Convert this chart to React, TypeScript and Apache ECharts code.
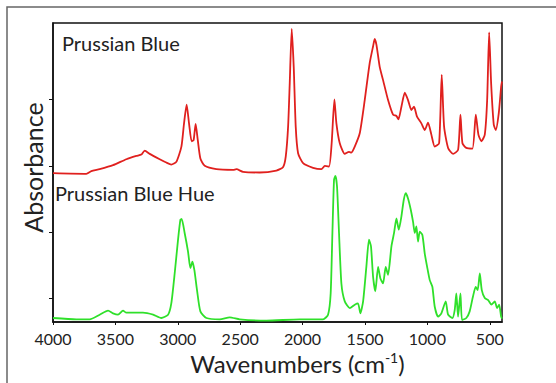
import React, { useEffect, useRef } from "react";
import * as echarts from "echarts";

// Prussian Blue (red trace)
const pbWavenumbers = [4000,3733,3693,3626,3519,3412,3332,3292,3265,3225,3145,3092,3052,3012,2971,2950,2929,2910,2889,2873,2857,2840,2819,2784,2691,2557,2530,2477,2344,2210,2157,2135,2116,2103,2087,2071,2055,2036,1996,1916,1849,1822,1788,1767,1745,1729,1702,1662,1628,1609,1582,1542,1502,1462,1435,1422,1408,1382,1355,1315,1275,1248,1232,1208,1181,1155,1128,1107,1083,1048,1021,995,968,941,906,885,866,834,794,754,735,719,688,639,612,591,567,540,521,505,489,468,452,428,409,402];
const pbAbsorbance = [2.24,2.23,2.27,2.30,2.36,2.45,2.50,2.52,2.58,2.53,2.45,2.40,2.37,2.41,2.64,2.99,3.27,2.99,2.72,2.74,2.98,2.74,2.46,2.35,2.30,2.29,2.30,2.26,2.25,2.28,2.33,2.49,2.94,3.59,4.41,3.84,2.94,2.54,2.39,2.32,2.30,2.35,2.34,2.69,3.35,2.99,2.69,2.53,2.56,2.55,2.64,2.84,3.34,3.90,4.15,4.26,4.17,3.84,3.64,3.34,3.12,3.10,3.05,3.24,3.45,3.34,3.19,3.24,3.09,2.99,2.89,3.00,2.82,2.64,2.69,3.72,2.94,2.62,2.53,2.59,3.12,2.69,2.62,2.61,3.12,2.82,2.72,2.82,3.34,4.36,3.59,2.97,2.89,3.14,3.54,3.62];

// Prussian Blue Hue (green trace)
const pbhWavenumbers = [4000,3813,3706,3626,3559,3519,3479,3439,3412,3279,3198,3132,3078,3052,3025,2998,2979,2969,2945,2918,2899,2883,2867,2846,2819,2771,2664,2584,2504,2290,2023,1836,1796,1775,1761,1748,1737,1724,1708,1689,1662,1622,1582,1556,1537,1515,1489,1468,1452,1435,1417,1395,1377,1355,1334,1315,1288,1267,1248,1229,1208,1189,1173,1155,1133,1115,1101,1088,1075,1061,1040,1021,1002,981,960,941,914,888,853,834,800,781,768,754,735,722,688,661,635,613,597,580,564,540,513,487,460,441,425,409,402];
const pbhAbsorbance = [0.06,0.04,0.04,0.11,0.17,0.13,0.11,0.17,0.14,0.14,0.11,0.06,0.11,0.28,0.73,1.24,1.54,1.55,1.34,1.06,0.81,0.91,0.78,0.48,0.16,0.06,0.04,0.07,0.04,0.02,0.04,0.04,0.11,0.43,1.34,2.14,2.20,2.04,1.34,0.58,0.31,0.21,0.26,0.28,0.13,0.31,0.83,1.24,1.14,0.68,0.46,0.83,0.66,0.58,0.83,0.71,1.14,1.34,1.56,1.39,1.59,1.84,1.94,1.86,1.69,1.51,1.34,1.44,1.21,1.36,1.31,1.03,0.83,0.63,0.53,0.23,0.08,0.13,0.31,0.11,0.06,0.18,0.43,0.08,0.43,0.03,0.06,0.16,0.38,0.53,0.48,0.73,0.48,0.36,0.33,0.26,0.31,0.21,0.26,0.08,0.05];

const xTickLabels = [4000, 3500, 3000, 2500, 2000, 1500, 1000, 500];
const yTickValues = [0.35, 1.35, 2.35, 3.35];

const FONT = "Lato";

export default function App() {
  const ref = useRef<HTMLDivElement>(null);
  useEffect(() => {
    if (!ref.current) return;
    const chart = echarts.init(ref.current, null, { renderer: "svg" });
    const pb = pbWavenumbers.map((w, i) => [w, pbAbsorbance[i]]);
    const pbh = pbhWavenumbers.map((w, i) => [w, pbhAbsorbance[i]]);
    chart.setOption({
      animation: false,
      backgroundColor: "#ffffff",
      grid: {
        left: 53,
        right: 54,
        top: 23,
        bottom: 61,
        show: true,
        borderColor: "#111",
        borderWidth: 1.5,
        backgroundColor: "transparent",
      },
      xAxis: {
        type: "value",
        inverse: true,
        min: 402,
        max: 4000,
        name: "Wavenumbers (cm{sup|-1})",
        nameLocation: "middle",
        nameGap: 25,
        nameTextStyle: {
          fontFamily: FONT,
          fontSize: 24,
          color: "#222",
          padding: [0, 0, 0, 40],
          rich: {
            sup: { fontFamily: FONT, fontSize: 14, color: "#222", verticalAlign: "top", padding: [0, 0, 11, 0] },
          },
        },
        splitLine: { show: false },
        axisLine: { show: true, lineStyle: { color: "#111", width: 1.5 } },
        axisTick: { show: true, customValues: xTickLabels, length: 3, lineStyle: { color: "#111" } },
        axisLabel: {
          customValues: xTickLabels,
          formatter: (v: number) => String(v),
          fontFamily: FONT,
          fontSize: 16,
          color: "#222",
          margin: 8,
        },
      },
      yAxis: {
        type: "value",
        min: 0,
        max: 4.5,
        name: "Absorbance",
        nameLocation: "middle",
        nameRotate: 90,
        nameGap: 8,
        nameTextStyle: { fontFamily: FONT, fontSize: 25, color: "#222", padding: [0, 0, 0, 10] },
        splitLine: { show: false },
        axisLine: { show: true, lineStyle: { color: "#111", width: 1.5 } },
        axisTick: { show: true, customValues: yTickValues, length: 4, lineStyle: { color: "#111" } },
        axisLabel: { show: false },
      },
      series: [
        {
          name: "Prussian Blue",
          type: "line",
          data: pb,
          showSymbol: false,
          smooth: 0.2,
          lineStyle: { color: "#e0201e", width: 1.8 },
        },
        {
          name: "Prussian Blue Hue",
          type: "line",
          data: pbh,
          showSymbol: false,
          smooth: 0.2,
          lineStyle: { color: "#2fe02a", width: 1.8 },
        },
      ],
      graphic: [
        {
          type: "rect",
          shape: { x: 7, y: 7, width: 600, height: 420 },
          style: { fill: "none", stroke: "#666", lineWidth: 1.5 },
          silent: true,
        },
        {
          type: "text",
          x: 62,
          y: 43,
          style: { text: "Prussian Blue", fontFamily: FONT, fontSize: 20, fill: "#222", verticalAlign: "middle" },
        },
        {
          type: "text",
          x: 55,
          y: 193,
          style: { text: "Prussian Blue Hue", fontFamily: FONT, fontSize: 20, fill: "#222", verticalAlign: "middle" },
        },
      ],
    });
    return () => chart.dispose();
  }, []);
  return (
    <div
      ref={ref}
      style={{ position: "fixed", left: 0, top: 0, width: 556, height: 383 }}
    />
  );
}
